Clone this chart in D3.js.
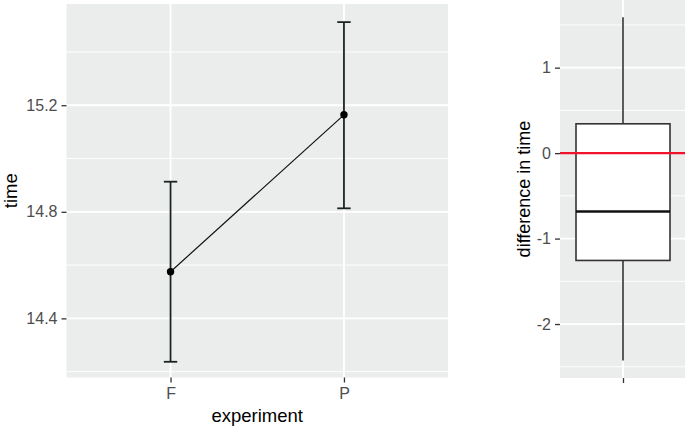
<!DOCTYPE html>
<html><head><meta charset="utf-8">
<script src="https://cdn.jsdelivr.net/npm/d3@7"></script>
<style>body{margin:0;background:#fff}svg{display:block}text{font-family:"Liberation Sans",Arial,sans-serif}</style>
</head><body>
<svg id="c" width="685" height="429"></svg>
<script>
// Left panel: mean time per experiment with error bars
const experiments = ["F", "P"];
const meanTime = [14.575, 15.164];
const lowerTime = [14.237, 14.813];
const upperTime = [14.913, 15.512];
const leftTicks = [14.4, 14.8, 15.2];
const leftMinor = [14.2, 14.6, 15.0, 15.4];

// Right panel: boxplot of difference in time
const boxStats = {min: -2.426, q1: -1.256, median: -0.683, q3: 0.343, max: 1.59};
const rightTicks = [-2, -1, 0, 1];
const rightMinor = [-2.5, -1.5, -0.5, 0.5, 1.5];
const refLine = [0];

const svg = d3.select("#c");
const bg = "#EBEDEC", tickCol = "#4d4d4d";

// ---- Left panel ----
const L = {x0: 66.5, x1: 448, y0: 4, y1: 377.5};
const xL = d3.scalePoint().domain(experiments).range([L.x0, L.x1]).padding(0.6);
const yL = d3.scaleLinear().domain([14.178, 15.58]).range([L.y1, L.y0]);
const gL = svg.append("g");
gL.append("rect").attr("x", L.x0).attr("y", L.y0).attr("width", L.x1 - L.x0).attr("height", L.y1 - L.y0).attr("fill", bg);
gL.selectAll(".mn").data(leftMinor).join("line").attr("x1", L.x0).attr("x2", L.x1)
  .attr("y1", d => yL(d)).attr("y2", d => yL(d)).attr("stroke", "#fff").attr("stroke-width", 0.9);
gL.selectAll(".mj").data(leftTicks).join("line").attr("x1", L.x0).attr("x2", L.x1)
  .attr("y1", d => yL(d)).attr("y2", d => yL(d)).attr("stroke", "#fff").attr("stroke-width", 1.8);
gL.selectAll(".vx").data(experiments).join("line").attr("y1", L.y0).attr("y2", L.y1)
  .attr("x1", d => xL(d)).attr("x2", d => xL(d)).attr("stroke", "#fff").attr("stroke-width", 1.8);

const axL = gL.append("g").attr("transform", `translate(${L.x0},0)`)
  .call(d3.axisLeft(yL).tickValues(leftTicks).tickFormat(d3.format(".1f")).tickSize(5).tickPadding(4));
const axB = gL.append("g").attr("transform", `translate(0,${L.y1})`)
  .call(d3.axisBottom(xL).tickSize(5).tickPadding(5));
[axL, axB].forEach(a => {
  a.select(".domain").remove();
  a.selectAll(".tick line").attr("stroke", "#333").attr("stroke-width", 1.3);
  a.selectAll(".tick text").attr("fill", tickCol).attr("font-size", 16).style("font-family", "Liberation Sans, Arial, sans-serif");
});

// error bars
const capHalf = 6.7;
experiments.forEach((e, i) => {
  const x = xL(e);
  gL.append("line").attr("x1", x).attr("x2", x).attr("y1", yL(lowerTime[i])).attr("y2", yL(upperTime[i])).attr("stroke", "#1a2424").attr("stroke-width", 1.8);
  [lowerTime[i], upperTime[i]].forEach(v => {
    gL.append("line").attr("x1", x - capHalf).attr("x2", x + capHalf).attr("y1", yL(v)).attr("y2", yL(v)).attr("stroke", "#1a2424").attr("stroke-width", 1.8);
  });
});
const line = d3.line().x((d, i) => xL(experiments[i])).y(d => yL(d));
gL.append("path").datum(meanTime).attr("d", line).attr("fill", "none").attr("stroke", "#111").attr("stroke-width", 1.2);
gL.selectAll(".pt").data(meanTime).join("circle").attr("cx", (d, i) => xL(experiments[i])).attr("cy", d => yL(d)).attr("r", 3.7).attr("fill", "#000");

svg.append("text").attr("transform", `translate(17,${(L.y0 + L.y1) / 2}) rotate(-90)`).attr("text-anchor", "middle")
  .attr("font-size", 18.5).attr("fill", "#000").text("time");
svg.append("text").attr("x", (L.x0 + L.x1) / 2).attr("y", 422).attr("text-anchor", "middle")
  .attr("font-size", 18.5).attr("fill", "#000").text("experiment");

// ---- Right panel ----
const R = {x0: 560, x1: 686, y0: 0, y1: 378};
const xR = d3.scalePoint().domain([""]).range([R.x0, R.x1]).padding(0.5);
const yR = d3.scaleLinear().domain([1 + 67.7 / 85.5, -2 - (378 - 324) / 85.5]).range([R.y0, R.y1]);
const gR = svg.append("g");
gR.append("rect").attr("x", R.x0).attr("y", R.y0).attr("width", R.x1 - R.x0).attr("height", R.y1 - R.y0).attr("fill", bg);
gR.selectAll(".mn").data(rightMinor).join("line").attr("x1", R.x0).attr("x2", R.x1)
  .attr("y1", d => yR(d)).attr("y2", d => yR(d)).attr("stroke", "#fff").attr("stroke-width", 0.9);
gR.selectAll(".mj").data(rightTicks).join("line").attr("x1", R.x0).attr("x2", R.x1)
  .attr("y1", d => yR(d)).attr("y2", d => yR(d)).attr("stroke", "#fff").attr("stroke-width", 1.8);
gR.append("line").attr("x1", xR("")).attr("x2", xR("")).attr("y1", R.y0).attr("y2", R.y1).attr("stroke", "#fff").attr("stroke-width", 1.8);

const axR = gR.append("g").attr("transform", `translate(${R.x0},0)`)
  .call(d3.axisLeft(yR).tickValues(rightTicks).tickFormat(d => String(d)).tickSize(5).tickPadding(4));
const axRB = gR.append("g").attr("transform", `translate(0,${R.y1})`)
  .call(d3.axisBottom(xR).tickSize(5).tickFormat(""));
[axR, axRB].forEach(a => {
  a.select(".domain").remove();
  a.selectAll(".tick line").attr("stroke", "#333").attr("stroke-width", 1.3);
  a.selectAll(".tick text").attr("fill", tickCol).attr("font-size", 16).style("font-family", "Liberation Sans, Arial, sans-serif");
});

const cx = xR(""), bw = 47;
gR.append("line").attr("x1", cx).attr("x2", cx).attr("y1", yR(boxStats.max)).attr("y2", yR(boxStats.q3)).attr("stroke", "#333").attr("stroke-width", 1.6);
gR.append("line").attr("x1", cx).attr("x2", cx).attr("y1", yR(boxStats.q1)).attr("y2", yR(boxStats.min)).attr("stroke", "#333").attr("stroke-width", 1.6);
gR.append("rect").attr("x", cx - bw).attr("width", 2 * bw).attr("y", yR(boxStats.q3)).attr("height", yR(boxStats.q1) - yR(boxStats.q3))
  .attr("fill", "#fff").attr("stroke", "#333").attr("stroke-width", 1.6);
gR.append("line").attr("x1", cx - bw).attr("x2", cx + bw).attr("y1", yR(boxStats.median)).attr("y2", yR(boxStats.median)).attr("stroke", "#111").attr("stroke-width", 2.6);
gR.selectAll(".ref").data(refLine).join("line").attr("x1", R.x0).attr("x2", R.x1).attr("y1", d => yR(d)).attr("y2", d => yR(d))
  .attr("stroke", "#f0142a").attr("stroke-width", 2.4);

svg.append("text").attr("transform", `translate(530,${(R.y0 + R.y1) / 2}) rotate(-90)`).attr("text-anchor", "middle")
  .attr("font-size", 18).attr("fill", "#000").text("difference in time");
</script>
</body></html>
